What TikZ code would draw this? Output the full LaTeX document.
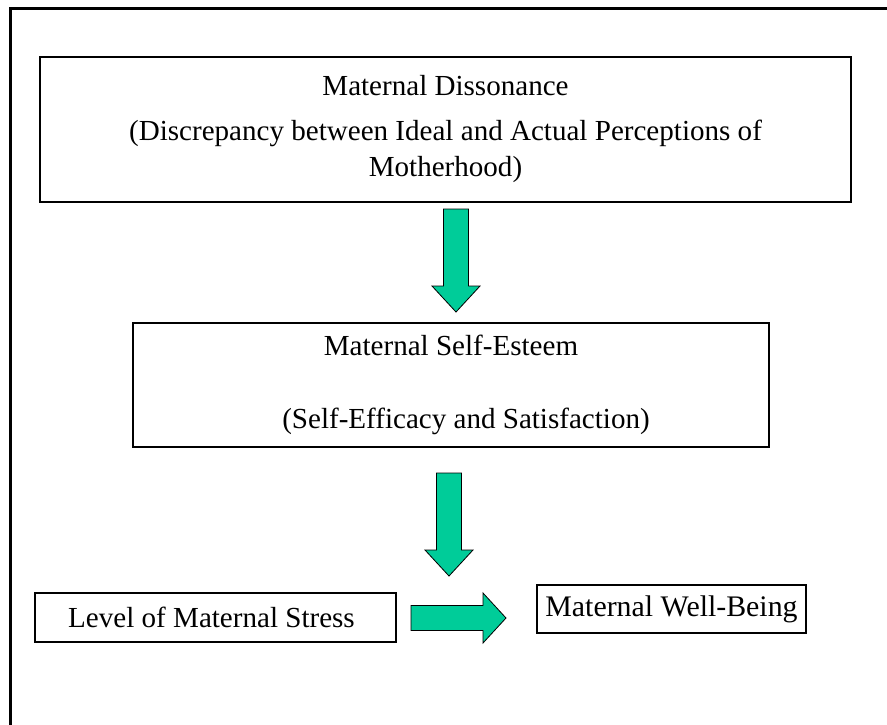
\documentclass[tikz,border=0pt]{standalone}
\usepackage{fontspec}
\setmainfont{Liberation Serif}
\usepackage{tikz}
\usetikzlibrary{calc}
\usetikzlibrary{shapes,arrows,positioning}

\definecolor{arrowgreen}{RGB}{0,204,153}

\tikzset{
  box/.style={draw, line width=0.9pt, inner sep=0pt, outer sep=0pt, align=center,
    font=\fontsize{21.8}{27}\selectfont},
  fatarrow/.style={fill=arrowgreen, draw=black, line width=0.6pt, line join=miter},
  fatdown/.pic={\path[fatarrow] (-12.5,0) -- (12.5,0) -- (12.5,77) -- (24,77)
    -- (0,103) -- (-24,77) -- (-12.5,77) -- cycle;},
  fatright/.pic={\path[fatarrow] (0,-12.5) -- (72,-12.5) -- (72,-25) -- (95,0)
    -- (72,25) -- (72,12.5) -- (0,12.5) -- cycle;}
}

\begin{document}
\begin{tikzpicture}[x=0.75pt, y=-0.75pt]

\useasboundingbox (0,0) rectangle (887,724);

% outer frame, cut off at right and bottom
\begin{scope}
  \clip (0,0) rectangle (887,724);
  \draw[line width=2.25pt] (10,9) rectangle (910,750);
\end{scope}

\node[box, minimum width=608.25pt, minimum height=108.75pt] (dis) at (445.5,129.5)
  {Maternal Dissonance\\[6.75pt](Discrepancy between Ideal and Actual Perceptions of\\Motherhood)};
\node[box, minimum width=477pt, minimum height=93pt] (est) at (451,385)
  {Maternal Self-Esteem\\[27.75pt]\hspace*{22.5pt}(Self-Efficacy and Satisfaction)};
\node[box, minimum width=270.75pt, minimum height=36.75pt] (lev) at (215.5,617.5)
  {Level of Maternal Stress\hspace*{6pt}};
\node[box, minimum width=201.75pt, minimum height=36pt, font=\fontsize{22.4}{27}\selectfont]
  (wel) at (671.5,609) {Maternal Well-Being};

\path ($(dis.south)+(10.5,7)$) pic {fatdown};
\path ($(est.south)+(-2,26)$) pic {fatdown};
\path ($(lev.east)+(15,0.5)$) pic {fatright};

\end{tikzpicture}
\end{document}
